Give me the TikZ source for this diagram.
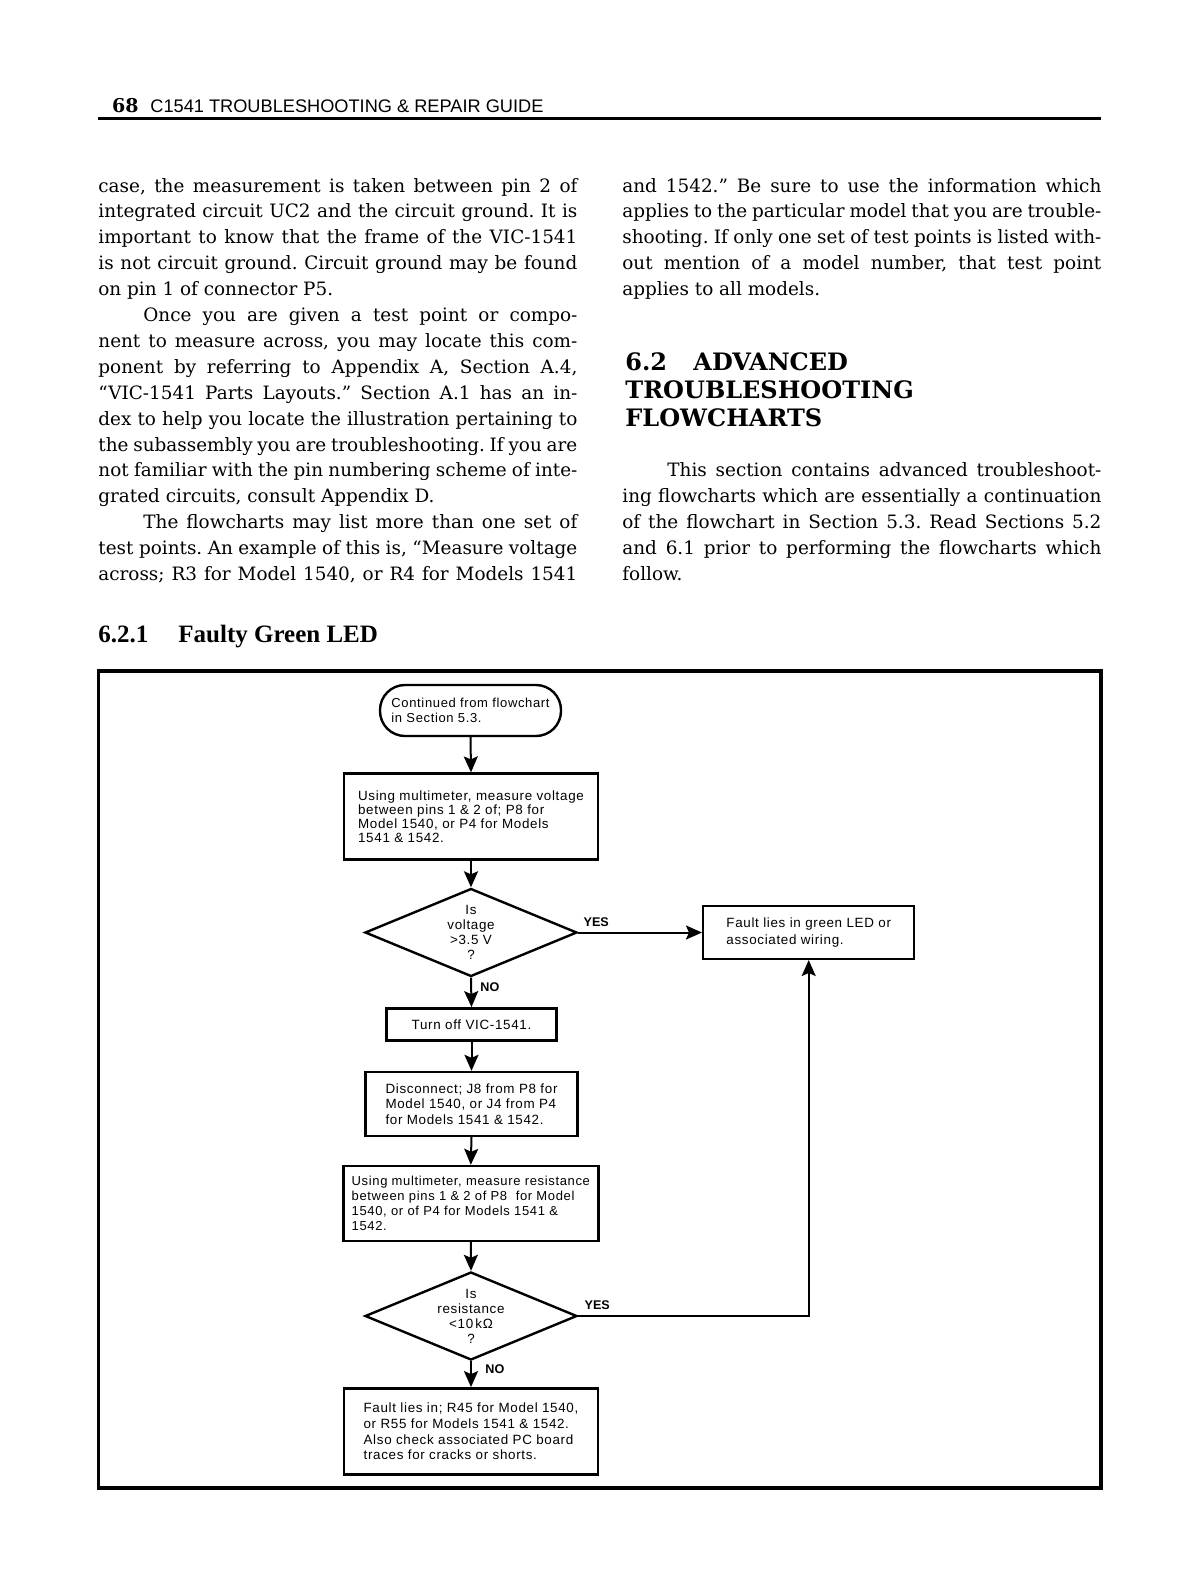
\documentclass[tikz,border=0pt]{standalone}
\usepackage{fontspec}
\setmainfont{DejaVu Serif}
\newfontfamily\hdsans{Liberation Sans}
\newfontfamily\flowfont{Liberation Sans}[LetterSpace=5]
\newfontfamily\subserif{Liberation Serif}
\usetikzlibrary{shapes.geometric,arrows.meta,calc}
\frenchspacing
\newcommand\flowtext{\flowfont\fontsize{6.7}{7.4}\selectfont}
\newcommand\jl[1]{\makebox[239.5pt][s]{#1}}
\newcommand\ji[1]{\makebox[217pt][s]{#1}}
\tikzset{
  body/.style={anchor=base west, inner sep=0pt, font=\fontsize{9.2}{12}\selectfont},
  headbold/.style={anchor=base west, inner sep=0pt, font=\bfseries\fontsize{12}{14}\selectfont},
  flowbox/.style={draw, line width=1.2pt, align=left, inner sep=0pt, font=\flowtext},
  termbox/.style={flowbox, rounded corners=12.5pt},
  decision/.style={draw, shape=diamond, line width=1.2pt, inner sep=0pt, minimum width=106pt, minimum height=44pt},
  dtext/.style={align=center, inner sep=0pt, font=\flowfont\fontsize{6.7}{7.5}\selectfont},
  arr/.style={-{Stealth[length=8pt,width=7pt,inset=1.5pt]}, line width=1pt},
  lab/.style={anchor=west, inner sep=0pt, font=\hdsans\bfseries\fontsize{6.3}{7}\selectfont}
}
\begin{document}
\begin{tikzpicture}[x=0.5pt,y=-0.5pt]
\useasboundingbox (0,0) rectangle (1200,1586);
\fill[white] (0,0) rectangle (1200,1586);

% running head
\node[anchor=base east, inner sep=0pt, font=\bfseries\fontsize{9.5}{10}\selectfont] (pg) at (139,112.5) {68};
\node[anchor=base west, inner sep=0pt, font=\hdsans\fontsize{9.1}{10}\selectfont] (rh) at (150,112.5) {C1541 TROUBLESHOOTING \& REPAIR GUIDE};
\draw[line width=1.5pt] (98,118.5) -- (1101,118.5);

% left column
\node[body] (l1) at (98,192) {\jl{case, the measurement is taken between pin 2 of}};
\node[body] (l2) at (98,217.9) {\jl{integrated circuit UC2 and the circuit ground. It is}};
\node[body] (l3) at (98,243.8) {\jl{important to know that the frame of the VIC-1541}};
\node[body] (l4) at (98,269.7) {\jl{is not circuit ground. Circuit ground may be found}};
\node[body] (l5) at (98,295.6) {on pin 1 of connector P5.};
\node[body] (l6) at (143,321.5) {\ji{Once you are given a test point or compo-}};
\node[body] (l7) at (98,347.4) {\jl{nent to measure across, you may locate this com-}};
\node[body] (l8) at (98,373.3) {\jl{ponent by referring to Appendix A, Section A.4,}};
\node[body] (l9) at (98,399.2) {\jl{“VIC-1541 Parts Layouts.” Section A.1 has an in-}};
\node[body] (l10) at (98,425.1) {\jl{dex to help you locate the illustration pertaining to}};
\node[body] (l11) at (98,451) {\jl{the subassembly you are troubleshooting. If you are}};
\node[body] (l12) at (98,476.9) {\jl{not familiar with the pin numbering scheme of inte-}};
\node[body] (l13) at (98,502.8) {grated circuits, consult Appendix D.};
\node[body] (l14) at (143,528.7) {\ji{The flowcharts may list more than one set of}};
\node[body] (l15) at (98,554.6) {\jl{test points. An example of this is, “Measure voltage}};
\node[body] (l16) at (98,580.5) {\jl{across; R3 for Model 1540, or R4 for Models 1541}};

% right column
\node[body] (r1) at (622,192) {\jl{and 1542.” Be sure to use the information which}};
\node[body] (r2) at (622,217.9) {\jl{applies to the particular model that you are trouble-}};
\node[body] (r3) at (622,243.8) {\jl{shooting. If only one set of test points is listed with-}};
\node[body] (r4) at (622,269.7) {\jl{out mention of a model number, that test point}};
\node[body] (r5) at (622,295.6) {applies to all models.};
\node[headbold] (h1) at (625,370) {6.2};
\node[headbold] (h2) at (693,370) {ADVANCED};
\node[headbold] (h3) at (625,398.3) {TROUBLESHOOTING};
\node[headbold] (h4) at (625,426.7) {FLOWCHARTS};
\node[body] (r12) at (667,476.9) {\ji{This section contains advanced troubleshoot-}};
\node[body] (r13) at (622,502.8) {\jl{ing flowcharts which are essentially a continuation}};
\node[body] (r14) at (622,528.7) {\jl{of the flowchart in Section 5.3. Read Sections 5.2}};
\node[body] (r15) at (622,554.6) {\jl{and 6.1 prior to performing the flowcharts which}};
\node[body] (r16) at (622,580.5) {follow.};

% subsection heading
\node[anchor=base west, inner sep=0pt, font=\subserif\bfseries\fontsize{12.5}{14}\selectfont] (s1) at (98,642.7) {6.2.1};
\node[anchor=base west, inner sep=0pt, font=\subserif\bfseries\fontsize{12.5}{14}\selectfont] (s2) at (178,642.7) {Faulty Green LED};

% frame
\draw[line width=1.7pt] (98.3,671) rectangle (1100.8,1488);

% flowchart
\node[termbox, minimum width=90.5pt, minimum height=25.5pt, font=\flowfont\fontsize{6.5}{7.4}\selectfont] (term) at (470.5,710.5) {Continued from flowchart\\in Section 5.3.};
\node[flowbox, minimum width=127pt, minimum height=43pt, font=\flowfont\fontsize{6.7}{7.1}\selectfont] (b1) at (471,816.6) {Using multimeter, measure voltage\\between pins 1 \& 2 of; P8 for\\Model 1540, or P4 for Models\\1541 \& 1542.};
\node[decision] (d1) at (471,932.5) {};
\node[dtext] (d1t) at (d1) {Is\\voltage\\>3.5 V\\?};
\node[flowbox, minimum width=105.5pt, minimum height=26.3pt, font=\flowfont\fontsize{6.7}{8.2}\selectfont] (f1) at (808.7,932.5) {Fault lies in green LED or\\associated wiring.};
\node[flowbox, minimum width=85pt, minimum height=16pt] (off) at (471.5,1024.3) {Turn off VIC-1541.};
\node[flowbox, minimum width=106pt, minimum height=32pt, font=\flowfont\fontsize{6.7}{7.6}\selectfont] (disc) at (471.5,1104) {Disconnect; J8 from P8 for\\Model 1540, or J4 from P4\\for Models 1541 \& 1542.};
\node[flowbox, minimum width=127.5pt, minimum height=37.5pt, font=\flowfont\fontsize{6.5}{7.4}\selectfont] (res) at (470.8,1203.5) {Using multimeter, measure resistance\\between pins 1 \& 2 of P8 \ for Model\\1540, or of P4 for Models 1541 \&\\1542.};
\node[decision] (d2) at (471,1316) {};
\node[dtext] (d2t) at (d2) {Is\\resistance\\<10\,kΩ\\?};
\node[flowbox, minimum width=127pt, minimum height=43pt, font=\flowfont\fontsize{6.7}{7.9}\selectfont] (fin) at (471,1431.3) {Fault lies in; R45 for Model 1540,\\or R55 for Models 1541 \& 1542.\\Also check associated PC board\\traces for cracks or shorts.};

\draw[arr] (term.south) -- (b1.north);
\draw[arr] (b1.south) -- (d1.north);
\draw[arr] (d1.east) -- (f1.west);
\node[lab] (yes1) at ($(d1.east)+(5,-10)$) {YES};
\draw[arr] (d1.south) -- (off.north);
\node[lab] (no1) at ($(d1.south)+(9,9)$) {NO};
\draw[arr] (off.south) -- (disc.north);
\draw[arr] (disc.south) -- (res.north);
\draw[arr] (res.south) -- (d2.north);
\draw[arr] (d2.east) -| (f1.south);
\node[lab] (yes2) at ($(d2.east)+(6,-11)$) {YES};
\draw[arr] (d2.south) -- (fin.north);
\node[lab] (no2) at ($(d2.south)+(14,8)$) {NO};
\end{tikzpicture}
\end{document}
